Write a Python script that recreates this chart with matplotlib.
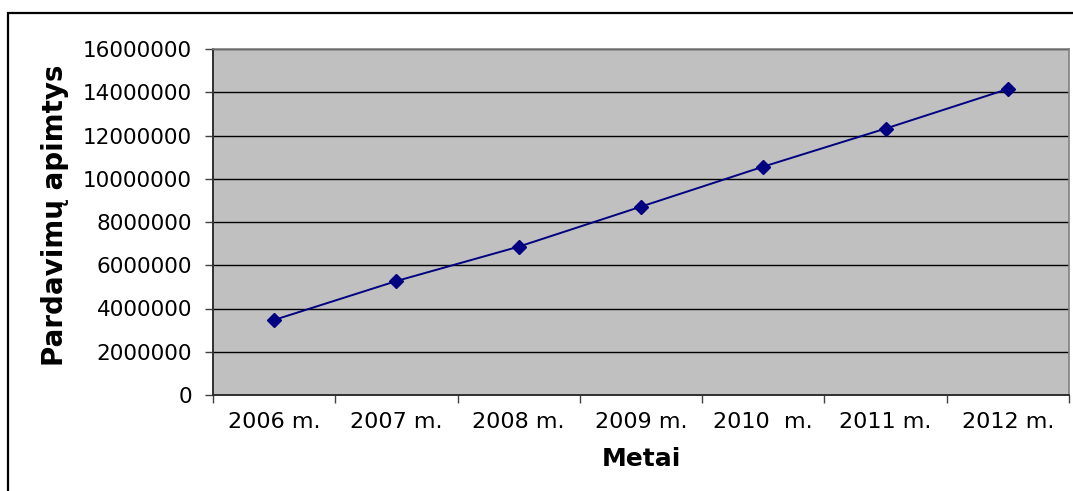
import matplotlib
matplotlib.use("Agg")
import matplotlib.pyplot as plt
from matplotlib.patches import Rectangle

# Sales volume by year
years = ["2006 m.", "2007 m.", "2008 m.", "2009 m.", "2010  m.", "2011 m.", "2012 m."]
sales = [3470000, 5270000, 6860000, 8710000, 10560000, 12320000, 14150000]
y_ticks = [0, 2000000, 4000000, 6000000, 8000000, 10000000, 12000000, 14000000, 16000000]

plt.rcParams["font.family"] = ["DejaVu Sans"]

fig = plt.figure(figsize=(10.73, 4.91), dpi=100)
fig.patch.set_facecolor("white")

# outer chart frame
fig.patches.append(Rectangle((8 / 1073, -0.05), 1.2, 1 - 13 / 491 + 0.05,
                             transform=fig.transFigure, fill=False,
                             edgecolor="black", linewidth=1.6, zorder=0))

ax = fig.add_axes([213 / 1073, 1 - 395 / 491, (1069 - 213) / 1073, (395 - 49) / 491])
ax.set_facecolor("#c0c0c0")

x = list(range(len(years)))
ax.plot(x, sales, color="#000080", linewidth=1.4, marker="D", markersize=7,
        markerfacecolor="#000080", markeredgecolor="#000080", zorder=3)

ax.set_xlim(-0.5, len(years) - 0.5)
ax.set_ylim(0, 16000000)

ax.set_yticks(y_ticks)
ax.set_yticklabels([str(v) for v in y_ticks], fontsize=15.5)
ax.yaxis.grid(True, color="black", linewidth=1.0)
ax.set_axisbelow(True)

# category labels centred, tick marks at category boundaries
ax.set_xticks([i - 0.5 for i in range(len(years) + 1)])
ax.set_xticklabels([])
ax.set_xticks(x, minor=True)
ax.set_xticklabels(years, minor=True, fontsize=16)
ax.tick_params(axis="x", which="minor", length=0, pad=12)
ax.tick_params(axis="x", which="major", length=6, width=1, color="#404040", direction="out")
ax.tick_params(axis="y", length=6, width=1, color="#404040", direction="out", pad=9)

for side in ("left", "bottom"):
    ax.spines[side].set_color("#303030")
    ax.spines[side].set_linewidth(1.4)
for side in ("top", "right"):
    ax.spines[side].set_color("#808080")
    ax.spines[side].set_linewidth(1.2)

ax.set_xlabel("Metai", fontsize=18, fontweight="bold", labelpad=11)
ax.set_ylabel("Pardavimų apimtys", fontsize=20, fontweight="bold")
ax.yaxis.set_label_coords(-0.168, 0.52)

fig.savefig("out.png", dpi=100, facecolor="white")
